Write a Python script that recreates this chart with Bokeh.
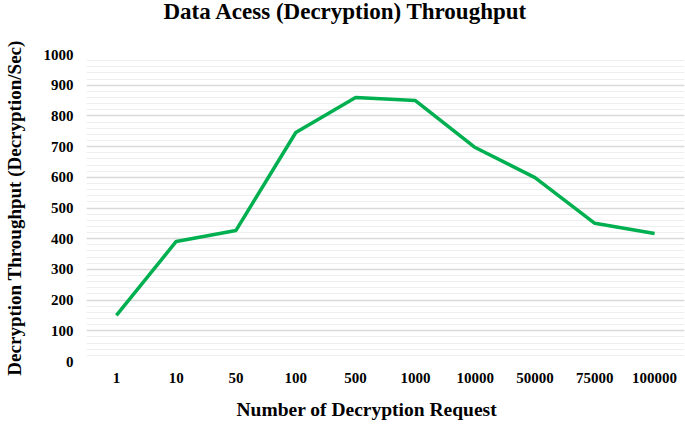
from bokeh.plotting import figure
from bokeh.models import Range1d, FactorRange, FixedTicker, Title
from bokeh.embed import file_html
from bokeh.resources import INLINE

categories = ["1", "10", "50", "100", "500", "1000", "10000", "50000", "75000", "100000"]
throughput = [150, 391, 427, 746, 860, 850, 697, 599, 450, 417]
y_ticks = list(range(0, 1001, 100))
y_minor_ticks = list(range(0, 1001, 20))

FONT = "Liberation Serif"

p = figure(width=685, height=427, output_backend="svg", toolbar_location=None,
           x_range=FactorRange(*categories, range_padding=0),
           y_range=Range1d(0, 1000),
           min_border_left=86, min_border_right=1, min_border_top=54, min_border_bottom=66)
p.title.text = ""

p.line(categories, throughput, line_color="#00b050", line_width=3.5)

p.outline_line_color = None
p.xgrid.grid_line_color = None
p.yaxis.ticker = FixedTicker(ticks=y_ticks, minor_ticks=y_minor_ticks)
p.ygrid.ticker = p.yaxis.ticker
p.ygrid.grid_line_color = "#d9d9d9"
p.ygrid.grid_line_width = 1.5
p.ygrid.minor_grid_line_color = "#eeeeee"
p.ygrid.minor_grid_line_width = 1.2

for ax in (p.xaxis[0], p.yaxis[0]):
    ax.axis_line_color = None
    ax.major_tick_line_color = None
    ax.minor_tick_line_color = None
    ax.major_label_text_font = FONT
    ax.major_label_text_font_style = "bold"
    ax.major_label_text_font_size = "15px"
    ax.major_label_text_color = "#000000"
    ax.axis_label_text_font = FONT
    ax.axis_label_text_font_style = "bold"
    ax.axis_label_text_font_size = "19px"
    ax.axis_label_text_color = "#000000"

p.xaxis.major_label_standoff = 5
p.yaxis.axis_label = "Decryption Throughput (Decryption/Sec)"
p.yaxis.major_tick_out = 0
p.yaxis.minor_tick_out = 0
p.yaxis.major_label_standoff = 13
p.yaxis.axis_label_standoff = 16

# spacer between frame and the main title (nearest to frame comes first)
p.add_layout(Title(text=" ", text_font_size="1px", standoff=29), "above")
p.add_layout(Title(text="Data Acess (Decryption) Throughput", align="left", offset=77,
                   vertical_align="top", standoff=-6,
                   text_font=FONT, text_font_size="23px", text_font_style="bold",
                   text_color="#000000"), "above")

# x-axis label as a title below the axis so it can be offset horizontally
p.add_layout(Title(text=" ", text_font_size="1px", standoff=8), "below")
p.add_layout(Title(text="Number of Decryption Request", align="left", offset=150,
                   vertical_align="bottom", standoff=0,
                   text_font=FONT, text_font_size="19.5px", text_font_style="bold",
                   text_color="#000000"), "below")

open("out.html", "w").write(file_html(p, INLINE))
